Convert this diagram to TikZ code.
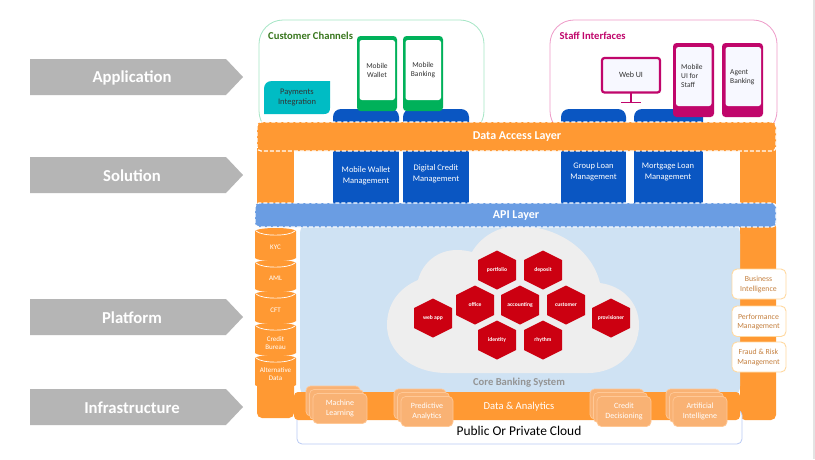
\documentclass[tikz,border=0pt]{standalone}
\usepackage{fontspec}
\setmainfont{Carlito}
\usetikzlibrary{shapes.arrows,calc}
\definecolor{orangeC}{HTML}{FF9933}
\definecolor{blueC}{HTML}{0A56C2}
\definecolor{apiC}{HTML}{6A9DE3}
\definecolor{coreC}{HTML}{CFE2F3}
\definecolor{cloudC}{HTML}{EEEEEE}
\definecolor{redC}{HTML}{CC0011}
\definecolor{greenC}{HTML}{00B15A}
\definecolor{magC}{HTML}{C0066B}
\definecolor{cardC}{HTML}{F9B274}
\definecolor{cardE}{HTML}{FFC896}
\definecolor{brownT}{HTML}{C5803F}
\definecolor{scrC}{HTML}{F7F8FF}
\definecolor{tealC}{HTML}{00BCC4}
\definecolor{sideE}{HTML}{FFD9A0}
\definecolor{custE}{HTML}{A5E6C5}
\definecolor{staffE}{HTML}{EE9AC8}
\definecolor{custT}{HTML}{38761D}
\tikzset{
  x=1pt,y=-1pt,
  every node/.style={inner sep=0pt,align=center,font=\fontsize{8}{9.5}\selectfont},
  sidearrow/.style={fill=black!29},
  sidetxt/.style={text=white,font=\fontsize{16.7}{19}\selectfont\bfseries},
  bluebox/.style={fill=blueC},
  bluetxt/.style={text=white,font=\fontsize{8.5}{10.5}\selectfont},
  layer/.style={draw=white,dash pattern=on 4pt off 2pt,line width=1.2pt,rounded corners=4pt},
  layertxt/.style={text=white,font=\fontsize{12}{14}\selectfont\bfseries},
  hexshape/.style={fill=redC},
  hextxt/.style={text=white,font=\fontsize{5.6}{7}\selectfont\bfseries},
  phoneG/.style={fill=greenC,rounded corners=3.5pt},
  phoneM/.style={fill=magC,rounded corners=3.5pt},
  screen/.style={rounded corners=2.5pt},
  phonetxt/.style={text=black!80,font=\fontsize{7.5}{9}\selectfont},
  cardshape/.style={fill=cardC,draw=cardE,line width=.7pt,rounded corners=4.5pt},
  cardtxt/.style={text=white,font=\fontsize{8}{9.5}\selectfont},
  sidecard/.style={draw=sideE,fill=white,line width=.9pt,rounded corners=5pt},
  sidecardtxt/.style={text=brownT,font=\fontsize{7.8}{9.3}\selectfont},
  cyl/.style={fill=orangeC},
  cylline/.style={draw=white,line width=.7pt},
  cyltxt/.style={text=white,font=\fontsize{7}{8.5}\selectfont},
}
\newcommand{\hexa}[4]{%
  \fill[hexshape] (#2,#3) +(0,-19.5) -- +(19,-10) -- +(19,10) -- +(0,19.5) -- +(-19,10) -- +(-19,-10) -- cycle;
  \node[hextxt] (#1) at (#2,#3) {#4};}
\newcommand{\cardstack}[5]{% name, x back, y back, text, width
  \draw[cardshape] (#2,#3) rectangle +(#5,30);
  \draw[cardshape] (#2+3.5,#3+3.5) rectangle +(#5,30);
  \draw[cardshape] (#2+7,#3+7.5) rectangle +(#5,30);
  \node[cardtxt] (#1) at (#2+7+#5/2,#3+22.5) {#4};}
\newcommand{\cylinder}[5]{% name, top, bottom, text, text y
  \fill[cyl] (255,#2+3) .. controls (258,#2-1) and (293,#2-1) .. (296,#2+3)
     -- (296,#3) .. controls (293,#3+4) and (258,#3+4) .. (255,#3) -- cycle;
  \draw[cylline] (256,#2+3) .. controls (262,#2+8.5) and (289,#2+8.5) .. (295,#2+3);
  \node[cyltxt] (#1) at (275.5,#5) {#4};}
\begin{document}
\begin{tikzpicture}
\useasboundingbox (0,0) rectangle (815,459);
\fill[white] (0,0) rectangle (815,459);
\fill[black!11] (813,0) rectangle (815,459);
% side arrows
\foreach \nm/\ya/\yb/\tx in {arA/59/95/Application,arB/157/193/Solution,arC/299/335/Platform,arD/389/425/Infrastructure}{
  \fill[sidearrow] (30,\ya) -- (226,\ya) -- (243,{(\ya+\yb)/2}) -- (226,\yb) -- (30,\yb) -- cycle;
  \node[sidetxt] (\nm) at (132,{(\ya+\yb)/2+.5}) {\tx};
}
% outer boxes
\draw[draw=custE,line width=.8pt,fill=white,rounded corners=24pt] (259,20) rectangle (484,135);
\draw[draw=staffE,line width=.8pt,fill=white,rounded corners=24pt] (550,20) rectangle (777,135);
\node[anchor=west,text=custT,font=\fontsize{10.6}{12}\selectfont\bfseries] (cust) at (268,36) {Customer Channels};
\node[anchor=west,text=magC,font=\fontsize{10.6}{12}\selectfont\bfseries] (staff) at (559.5,35.5) {Staff Interfaces};
% payments
\fill[fill=tealC] (272,81) -- (330,81) -- (330,108) .. controls (330,112) and (328,114) .. (324,114) -- (264,114) -- (264,89) .. controls (264,84) and (267,81) .. (272,81) -- cycle;
\node[text=black!80,font=\fontsize{8.5}{10.5}\selectfont] (pay) at (297,97.5) {Payments\\Integration};
% blue boxes
\fill[bluebox,rounded corners=8pt] (333,109) rectangle (399,140);
\fill[bluebox] (333,125) rectangle (399,203);
\fill[bluebox,rounded corners=8pt] (403,109) rectangle (469,140);
\fill[bluebox] (403,125) rectangle (469,203);
\fill[bluebox,rounded corners=8pt] (561,109) rectangle (626,140);
\fill[bluebox] (561,125) rectangle (626,203);
\fill[bluebox,rounded corners=8pt] (634,109) rectangle (703,140);
\fill[bluebox] (634,125) rectangle (703,203);
\node[bluetxt] (bA) at (366,176) {Mobile Wallet\\Management};
\node[bluetxt] (bB) at (436,174) {Digital Credit\\Management};
\node[bluetxt] (bC) at (593.5,172) {Group Loan\\Management};
\node[bluetxt] (bD) at (668,172) {Mortgage Loan\\Management};
% green phones
\fill[phoneG] (357,36) rectangle (397,111);
\fill[white,screen] (359.5,40) rectangle (395,100);
\node[phonetxt] (pA) at (377,70) {Mobile\\Wallet};
\fill[phoneG] (403,36) rectangle (443,111);
\fill[white,screen] (405.5,40) rectangle (441,100);
\node[phonetxt] (pB) at (423,70) {Mobile\\Banking};
% web ui
\draw[magC,line width=2.2pt,fill=scrC,rounded corners=2.5pt] (602,58) rectangle (660,92.5);
\draw[magC,line width=1.5pt] (631,93) -- (631,102);
\draw[magC,line width=1.5pt] (621,102.5) -- (641,102.5);
\node[text=black!80,font=\fontsize{8}{10}\selectfont] (web) at (631,74.5) {Web UI};
% magenta phones
\fill[phoneM] (673,43) rectangle (714,117);
\fill[scrC,screen] (676,47) rectangle (711.5,106);
\node[phonetxt,align=left,anchor=west] (pC) at (681,76) {Mobile\\UI for\\Staff};
\fill[phoneM] (722,43) rectangle (763,117);
\fill[scrC,screen] (725.5,47) rectangle (761,106);
\node[phonetxt,align=left,anchor=west] (pD) at (730,77) {Agent\\Banking};
% data access + pillars
\fill[orangeC] (257,148) rectangle (294,204);
\fill[orangeC] (740,148) rectangle (776,204);
\draw[layer,fill=orangeC] (257,122) rectangle (776,151);
\node[layertxt] (dal) at (517,136.5) {Data Access Layer};
% core
\fill[orangeC,rounded corners=5pt] (740,222) rectangle (776,420);
\fill[coreC,rounded corners=14pt] (300,220) rectangle (740,400);
% cloud base
\draw[draw=coreC!90!blue,line width=.8pt,fill=white,rounded corners=5pt] (297,410) rectangle (742,444);
% cloud
\fill[cloudC] (447,373) .. controls (412,373) and (387,352) .. (387,325)
  .. controls (387,304) and (399,288) .. (418,280)
  .. controls (423,262) and (438,250) .. (457,250)
  .. controls (463,250) and (468,251) .. (472,252)
  .. controls (480,238) and (497,226) .. (518,226)
  .. controls (558,226) and (592,250) .. (600,283)
  .. controls (623,286) and (639,303) .. (639,325)
  .. controls (639,352) and (617,373) .. (588,373) -- cycle;
\node[text=black!42,font=\fontsize{10.6}{12}\selectfont\bfseries] (core) at (519,383) {Core Banking System};
% hexagons
\hexa{hA}{497}{270}{portfolio}
\hexa{hB}{543}{270}{deposit}
\hexa{hC}{475}{305}{office}
\hexa{hD}{520}{305}{accounting}
\hexa{hE}{566}{305}{customer}
\hexa{hF}{433}{318}{web app}
\hexa{hG}{611}{318}{provisioner}
\hexa{hH}{497}{340}{identity}
\hexa{hI}{543}{340}{rhythm}
% band
\fill[orangeC,rounded corners=4pt] (294,392) rectangle (740,420);
\node[text=white,font=\fontsize{10.6}{12}\selectfont] (da) at (519,406.5) {Data \& Analytics};
\node[text=black,font=\fontsize{13.4}{15}\selectfont] (pub) at (519,430.5) {Public Or Private Cloud};
% left lower pillar and cylinders
\fill[orangeC,rounded corners=5pt] (257,375) rectangle (294,418);
\cylinder{cyE}{355}{385}{Alternative\\Data}{374}
\cylinder{cyD}{323}{353}{Credit\\Bureau}{343}
\cylinder{cyC}{291}{321}{CFT}{310.5}
\cylinder{cyB}{260}{289}{AML}{278}
\cylinder{cyA}{228}{258}{KYC}{247}
% api
\draw[layer,fill=apiC] (255,203) rectangle (776,227);
\node[layertxt] (api) at (516,215.5) {API Layer};
% stacks
\cardstack{cA}{306}{386}{Machine\\Learning}{54}
\cardstack{cB}{394}{389}{Predictive\\Analytics}{52}
\cardstack{cC}{590}{389}{Credit\\Decisioning}{54}
\cardstack{cD}{666}{389}{Artificial\\Intelligene}{54}
% side cards
\draw[sidecard] (732,269) rectangle (786,299);
\node[sidecardtxt] (sA) at (758.5,284.5) {Business\\Intelligence};
\draw[sidecard] (732,306) rectangle (786,336.5);
\node[sidecardtxt] (sB) at (758.5,322) {Performance\\Management};
\draw[sidecard] (732,342) rectangle (786,372);
\node[sidecardtxt] (sC) at (758.5,357.5) {Fraud \& Risk\\Management};
\end{tikzpicture}
\end{document}
